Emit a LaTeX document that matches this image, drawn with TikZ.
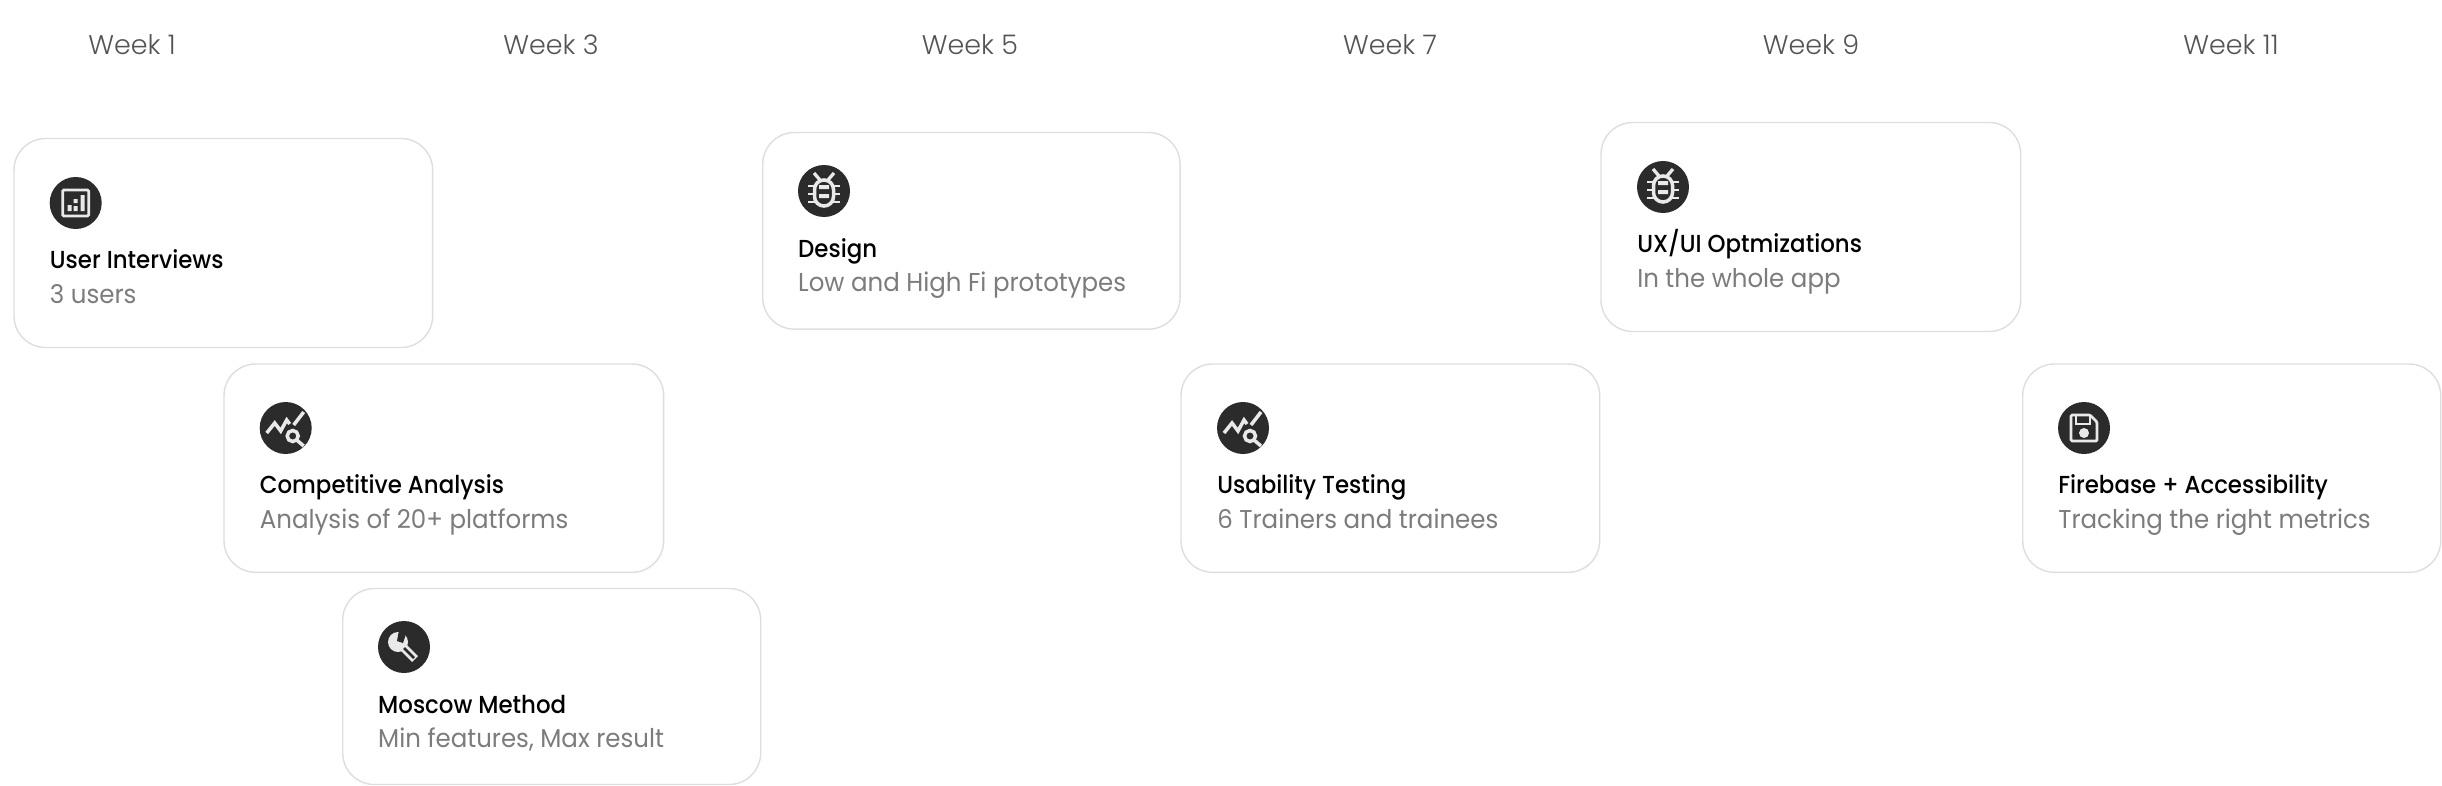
\documentclass[tikz,border=0pt]{standalone}
\usepackage{fontspec}
\setmainfont{Poppins}[FakeStretch=0.95]
\newfontfamily\lightface{Poppins Light}
\newfontfamily\mediumface{Poppins Medium}[FakeStretch=0.93]
\usepackage{xcolor}
\definecolor{ink}{HTML}{2B2B2B}
\definecolor{glyph}{HTML}{E9E9E9}
\definecolor{rim}{HTML}{DEDEDE}
\definecolor{muted}{HTML}{7C7C7C}
\definecolor{weekgray}{HTML}{565353}

\tikzset{
  stroke/.style={draw=glyph, line width=2.3pt},
  iconchart/.pic={
    \draw[stroke, rounded corners=1pt] (-13,-13) rectangle (13,13);
    \fill[glyph] (-8,2) rectangle (-4,8) (-2,-4) rectangle (2,0) (-2,3) rectangle (2,8) (5,-8) rectangle (9,8);
  },
  iconsearch/.pic={
    \draw[stroke, line width=3pt] (-19,5) -- (-11,-5) -- (-5,3) -- (1,-8) -- (4,-4);
    \draw[stroke, line width=3pt] (8,-3) -- (18,-16);
    \draw[stroke, line width=3pt] (7,8) circle (5.5);
    \draw[stroke, line width=3pt] (11,12) -- (18,18);
  },
  iconwrench/.pic={
    \fill[glyph] (-6,-5) circle (10);
    \draw[glyph, line width=7pt] (-3,-2) -- (11,12);
    \draw[ink, line width=2.2pt] (0,1) -- (10,11);
    \fill[ink] (-7,-6) -- (-5,-17) -- (3,-16) -- (-1,-4) -- cycle;
  },
  iconbug/.pic={
    \draw[stroke, line width=3pt, rounded corners=8pt] (-9.5,-11) rectangle (9.5,15);
    \fill[glyph] (-5,-6) rectangle (5,-2) (-5,3) rectangle (5,7);
    \foreach \ly in {-5,3,11} {
      \draw[stroke] (-16,\ly) -- (-9,\ly) (9,\ly) -- (16,\ly);
    }
    \draw[stroke, line width=2.8pt] (-10,-18) -- (-4,-11) (10,-18) -- (4,-11);
  },
  iconsave/.pic={
    \draw[stroke, rounded corners=1pt] (-13,-13) -- (6,-13) -- (13,-6) -- (13,13) -- (-13,13) -- cycle;
    \draw[stroke] (-8,-13) -- (-8,-4) -- (6,-4) -- (6,-13);
    \fill[glyph] (0,5) circle (5);
  },
}

\begin{document}
\begin{tikzpicture}[
  x=0.03cm,y=-0.03cm,
  card/.style={draw=rim, line width=1.2pt, rounded corners=0.95cm, fill=white, inner sep=0pt, outer sep=0pt, anchor=north west},
  badge/.style={circle, fill=ink, inner sep=0pt, minimum size=1.56cm},
  week/.style={anchor=base, inner sep=0pt, text=weekgray, font=\fontsize{23}{23}\selectfont\lightface},
  heading/.style={anchor=base west, inner sep=0pt, text=black, font=\fontsize{21}{21}\selectfont\mediumface},
  detail/.style={anchor=base west, inner sep=0pt, text=muted, font=\fontsize{22}{22}\selectfont}
]
\useasboundingbox (0,0) rectangle (2442,786);

\node[week] (week1) at (132,55) {Week 1};
\node[week] (week3) at (551,55) {Week 3};
\node[week] (week5) at (970,55) {Week 5};
\node[week] (week7) at (1390,55) {Week 7};
\node[week] (week9) at (1811,55) {Week 9};
\node[week] (week11) at (2231,55) {Week 11};

\node[card, minimum width=12.56cm, minimum height=6.27cm] (interviews) at (14,138.5) {};
\node[badge] (interviewsicon) at (75.7,203) {};
\pic at (interviewsicon) {iconchart};
\node[heading] (interviewstitle) at (49.7,268) {User Interviews};
\node[detail] (interviewstext) at (49.7,303) {3 users};

\node[card, minimum width=13.19cm, minimum height=6.25cm] (competitive) at (224,364) {};
\node[badge] (competitiveicon) at (285.7,428) {};
\pic at (competitiveicon) {iconsearch};
\node[heading] (competitivetitle) at (259.7,493) {Competitive Analysis};
\node[detail] (competitivetext) at (259.7,528) {Analysis of 20+ platforms};

\node[card, minimum width=12.54cm, minimum height=5.88cm] (moscow) at (342.7,588.5) {};
\node[badge] (moscowicon) at (404,647) {};
\pic at (moscowicon) {iconwrench};
\node[heading] (moscowtitle) at (378,713) {Moscow Method};
\node[detail] (moscowtext) at (378,747) {Min features, Max result};

\node[card, minimum width=12.52cm, minimum height=5.9cm] (design) at (762.7,132.5) {};
\node[badge] (designicon) at (824,191) {};
\pic at (designicon) {iconbug};
\node[heading] (designtitle) at (798,257) {Design};
\node[detail] (designtext) at (798,291) {Low and High Fi prototypes};

\node[card, minimum width=12.56cm, minimum height=6.25cm] (usability) at (1181,364) {};
\node[badge] (usabilityicon) at (1243,428) {};
\pic at (usabilityicon) {iconsearch};
\node[heading] (usabilitytitle) at (1217,493) {Usability Testing};
\node[detail] (usabilitytext) at (1217,528) {6 Trainers and trainees};

\node[card, minimum width=12.59cm, minimum height=6.27cm] (optimize) at (1601,122.5) {};
\node[badge] (optimizeicon) at (1663,187) {};
\pic at (optimizeicon) {iconbug};
\node[heading] (optimizetitle) at (1637,252) {UX/UI Optmizations};
\node[detail] (optimizetext) at (1637,287) {In the whole app};

\node[card, minimum width=12.54cm, minimum height=6.25cm] (firebase) at (2022.7,364) {};
\node[badge] (firebaseicon) at (2084,428) {};
\pic at (firebaseicon) {iconsave};
\node[heading] (firebasetitle) at (2058,493) {Firebase + Accessibility};
\node[detail] (firebasetext) at (2058,528) {Tracking the right metrics};
\end{tikzpicture}
\end{document}
